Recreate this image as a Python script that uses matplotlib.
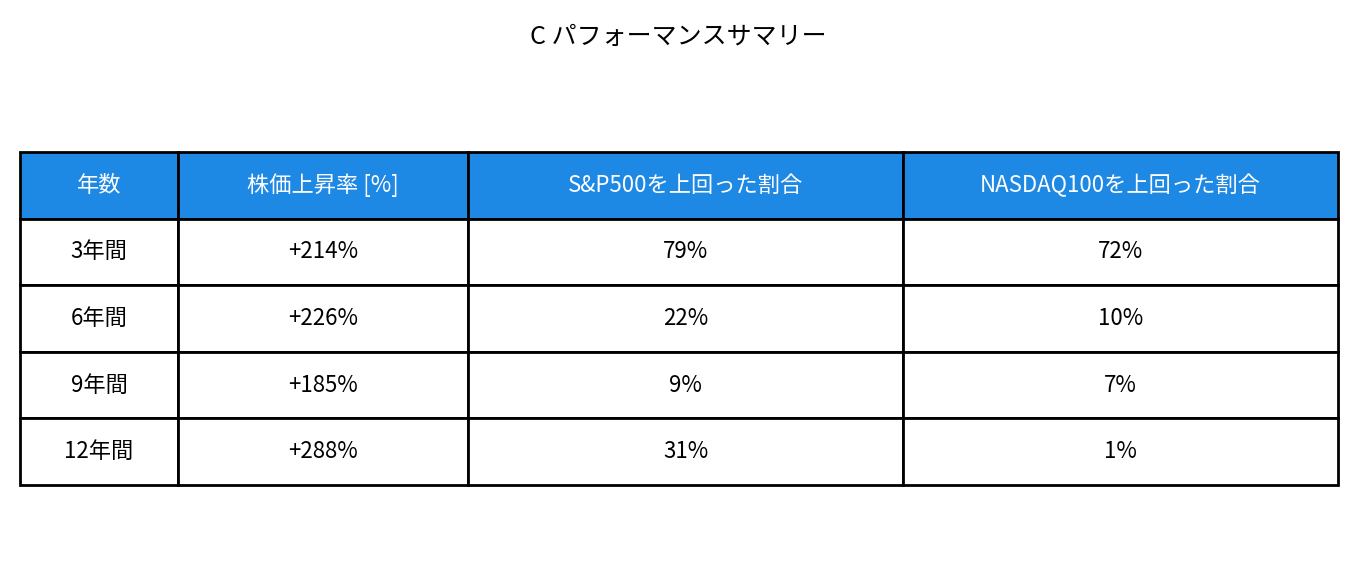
import matplotlib.pyplot as plt

plt.rcParams['font.family'] = ['Noto Sans CJK JP', 'DejaVu Sans']

title = "C パフォーマンスサマリー"
headers = ["年数", "株価上昇率 [%]", "S&P500を上回った割合", "NASDAQ100を上回った割合"]
years = ["3年間", "6年間", "9年間", "12年間"]
growth = ["+214%", "+226%", "+185%", "+288%"]
beat_sp500 = ["79%", "22%", "9%", "31%"]
beat_nasdaq = ["72%", "10%", "7%", "1%"]

W, H = 1357, 569
fig = plt.figure(figsize=(W / 100, H / 100), dpi=100)
ax = fig.add_axes([0, 0, 1, 1])
ax.axis("off")

col_px = [158, 290, 435, 435]
total = sum(col_px)
rows = [list(r) for r in zip(years, growth, beat_sp500, beat_nasdaq)]

tbl = ax.table(cellText=rows, colLabels=headers, cellLoc="center",
               colWidths=[c / total for c in col_px],
               bbox=[20 / W, (H - 485) / H, 1318 / W, 333 / H])
tbl.auto_set_font_size(False)
tbl.set_fontsize(16)
for (r, c), cell in tbl.get_celld().items():
    cell.set_edgecolor("black")
    cell.set_linewidth(2)
    if r == 0:
        cell.set_facecolor("#1E88E5")
        cell.get_text().set_color("white")

fig.text(0.5, 1 - 37 / H, title, ha="center", va="center", fontsize=18)
fig.savefig("out.png", dpi=100)
